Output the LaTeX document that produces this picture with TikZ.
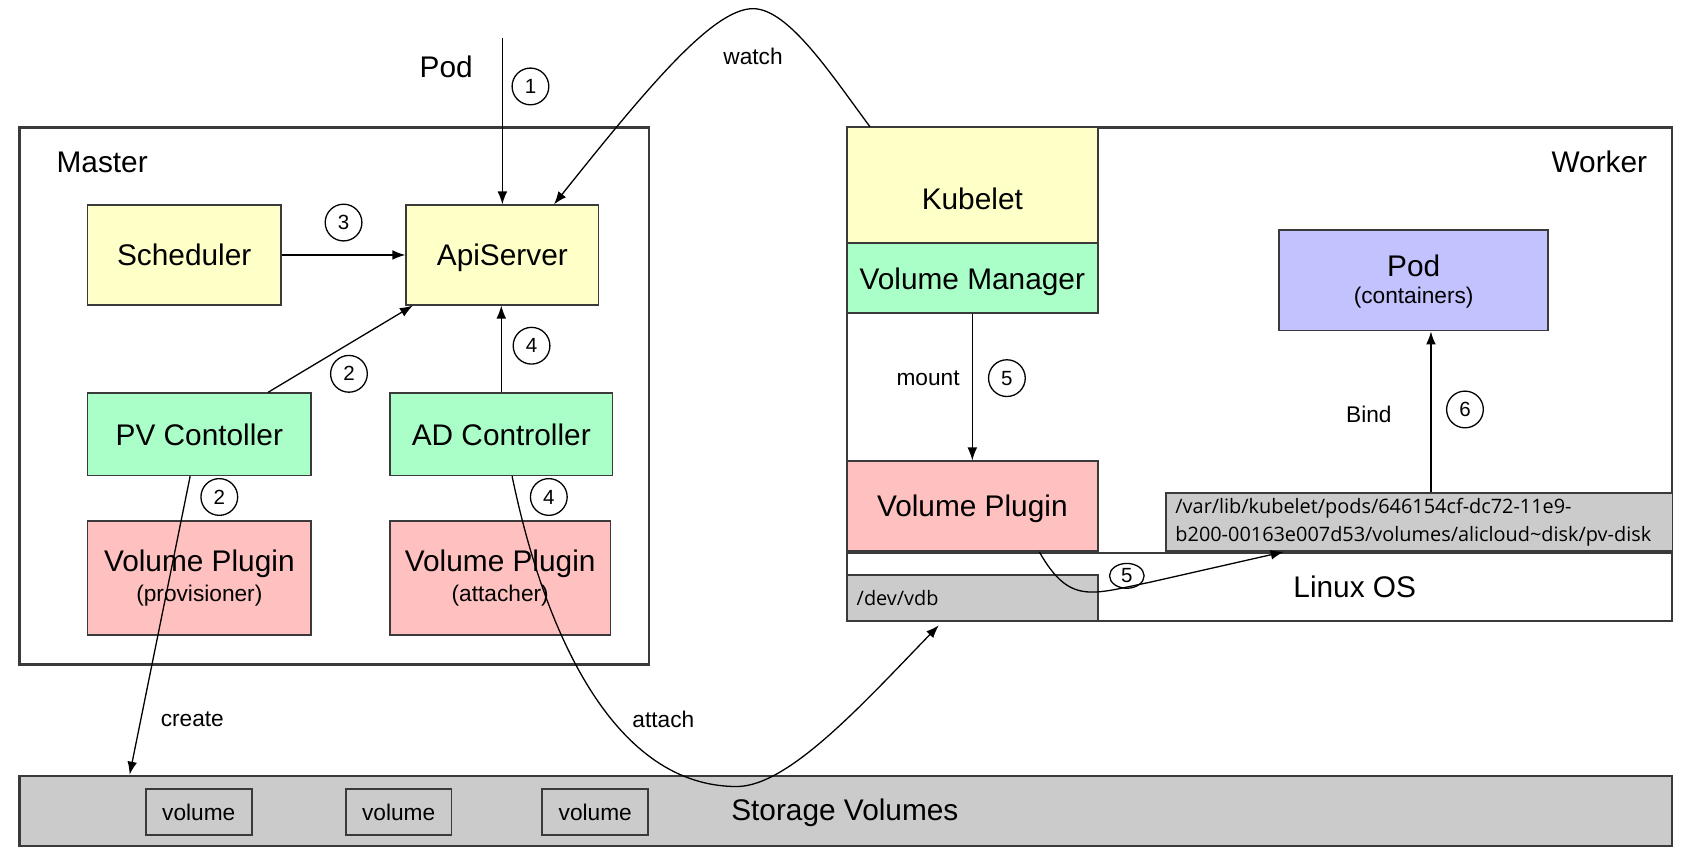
\documentclass[tikz,border=0pt]{standalone}
\usepackage{fontspec}
\setmainfont{Liberation Sans}
\newfontfamily\pathfont{Open Sans}
\usetikzlibrary{arrows.meta,calc,shapes.geometric}
\definecolor{cyellow}{HTML}{FFFFC8}
\definecolor{cgreen}{HTML}{AAFFC8}
\definecolor{cpink}{HTML}{FFC0C0}
\definecolor{cblue}{HTML}{C2C2FF}
\definecolor{cgray}{HTML}{CBCBCB}
\definecolor{cline}{HTML}{3A3A3A}
\newcommand\fBig{\fontsize{13.8}{16}\selectfont}
\newcommand\fSmall{\fontsize{10.5}{12.5}\selectfont}
\newcommand\fNum{\fontsize{9.5}{11}\selectfont}
\newcommand\fPath{\pathfont\fontsize{9.2}{13}\selectfont}
\newcommand\lowered[2]{\raisebox{-#1}[\height][\depth]{#2}}
\begin{document}
\begin{tikzpicture}[x=0.5pt,y=-0.5pt,
  box/.style={draw=cline, line width=0.8pt, inner sep=0pt, align=center, font=\fBig},
  onebox/.style={box, text height=10pt, text depth=0pt},
  container/.style={draw=cline, line width=1pt, inner sep=0pt},
  lbl/.style={font=\fSmall, inner sep=0pt},
  bigtxt/.style={font=\fBig, inner sep=0pt},
  num/.style={circle, draw=black, line width=0.6pt, minimum size=17pt, inner sep=0pt, font=\fNum},
  arr/.style={-{Latex[length=6pt,width=4.5pt]}, line width=0.6pt, draw=black}]
\useasboundingbox[fill=white] (0,0) rectangle (1568,799.7);
% containers
\node[container, minimum width=291.5pt, minimum height=248.5pt] (master) at (309.5,366.5) {};
\node[container, minimum width=382pt, minimum height=228.5pt] (worker) at (1166,346.5) {};
\node[container, fill=cgray, minimum width=765pt, minimum height=32.5pt] (stor) at (783,750.5) {};
% master boxes
\node[onebox, fill=cyellow, minimum width=89.5pt, minimum height=46pt] (sch) at (170.5,236) {Scheduler};
\node[onebox, fill=cyellow, minimum width=89pt, minimum height=46pt] (api) at (465,236) {ApiServer};
\node[onebox, fill=cgreen, minimum width=103.5pt, minimum height=38pt] (pv) at (184.5,402) {PV Contoller};
\node[onebox, fill=cgreen, minimum width=103pt, minimum height=38pt] (ad) at (464,402) {AD Controller};
\node[box, fill=cpink, minimum width=103.5pt, minimum height=53pt] (vpp) at (184.5,535) {Volume Plugin\\[-2pt]{\fSmall (provisioner)}};
\node[box, fill=cpink, minimum width=102pt, minimum height=53pt] (vpa) at (463,535) {Volume Plugin\\[-2pt]{\fSmall (attacher)}};
% storage volumes
\node[box, font=\fSmall, minimum width=49pt, minimum height=21.5pt] (v1) at (184,751.5) {volume};
\node[box, font=\fSmall, minimum width=49pt, minimum height=21.5pt] (v2) at (369,751.5) {volume};
\node[box, font=\fSmall, minimum width=49pt, minimum height=21.5pt] (v3) at (551,751.5) {volume};
\node[bigtxt] (stortxt) at (782,752) {Storage Volumes};
% worker boxes
\node[onebox, fill=cyellow, minimum width=116pt, minimum height=53.5pt] (kub) at (900,171.5) {\lowered{6pt}{Kubelet}};
\node[onebox, fill=cgreen, minimum width=116pt, minimum height=32.5pt] (vm) at (900,257.5) {Volume Manager};
\node[onebox, fill=cpink, minimum width=116pt, minimum height=41.5pt] (vpw) at (900,468.5) {Volume Plugin};
\node[box, fill=cblue, minimum width=124.5pt, minimum height=46.5pt] (pod) at (1308.5,259.5) {\lowered{1.5pt}{Pod}\\[-2pt]{\fSmall (containers)}};
\node[container, minimum width=382pt, minimum height=31.5pt] (linux) at (1166,543.5) {};
\node[box, fill=cgray, font=\fPath, align=left, inner xsep=4.5pt, text width=225.5pt, minimum height=27pt] (path) at (1313.5,483) {/var/lib/kubelet/pods/646154cf-dc72-11e9-\\b200-00163e007d53/volumes/alicloud\textasciitilde disk/pv-disk};
\node[box, fill=cgray, font=\fPath, align=left, inner xsep=4.5pt, text width=107pt, minimum height=21.5pt] (vdb) at (900,553.5) {/dev/vdb};
\node[bigtxt] (linuxtxt) at (1254,543) {Linux OS};
% titles
\node[bigtxt, anchor=west] (mastertxt) at (52,150) {Master};
\node[bigtxt, anchor=east] (workertxt) at (1525,150) {Worker};
\node[bigtxt] (podtxt) at (413,62) {Pod};
% labels
\node[lbl] (watch) at (697,52) {watch};
\node[lbl] (create) at (178,666) {create};
\node[lbl] (attach) at (614,666) {attach};
\node[lbl] (mount) at (859,350) {mount};
\node[lbl] (bind) at (1267,384) {Bind};
% numbers
\node[num] (n1) at (491,80) {1};
\node[num] (n3) at (318,206) {3};
\node[num] (n2a) at (323,346) {2};
\node[num] (n4a) at (492,320) {4};
\node[num] (n2b) at (203,460) {2};
\node[num] (n4b) at (508,460) {4};
\node[num] (n5a) at (932,350) {5};
\node[num] (n6) at (1356,379) {6};
\node[num, ellipse, minimum width=16pt, minimum height=11.5pt] (n5b) at (1043,533) {5};
% connectors
\coordinate (podtop) at (465,35);
\draw[arr] (podtop) -- (api.north);
\draw[arr] (sch.east) -- (api.west);
\draw[arr] ($(pv.north)+(63.5,0)$) -- ($(api.south west)+(7,0)$);
\draw[arr] (ad.north) -- (ad.north |- api.south);
\draw[arr] ($(kub.north west)+(22,0)$) .. controls (770,70) and (730,8) .. (697,8)
  .. controls (660,8) and (600,80) .. ($(api.north east)+(-42,0)$);
\draw[arr] ($(pv.south)+(-8.5,0)$) -- ($(stor.north west)+(103,0)$);
\draw[arr] ($(ad.south)+(10,0)$) .. controls (505,590) and (570,728) .. (682,728)
  .. controls (730,728) and (800,650) .. ($(vdb.south)+(-31,3)$);
\draw[arr] (vm.south) -- (vpw.north);
\coordinate (bindx) at ($(pod.south)+(16,0)$);
\draw[arr] (path.north -| bindx) -- (bindx);
\draw[arr] ($(vpw.south)+(62,0)$) .. controls (990,560) and (1010,550) .. (1064,539)
  -- ($(path.south west)+(110,0)$);
\end{tikzpicture}
\end{document}
